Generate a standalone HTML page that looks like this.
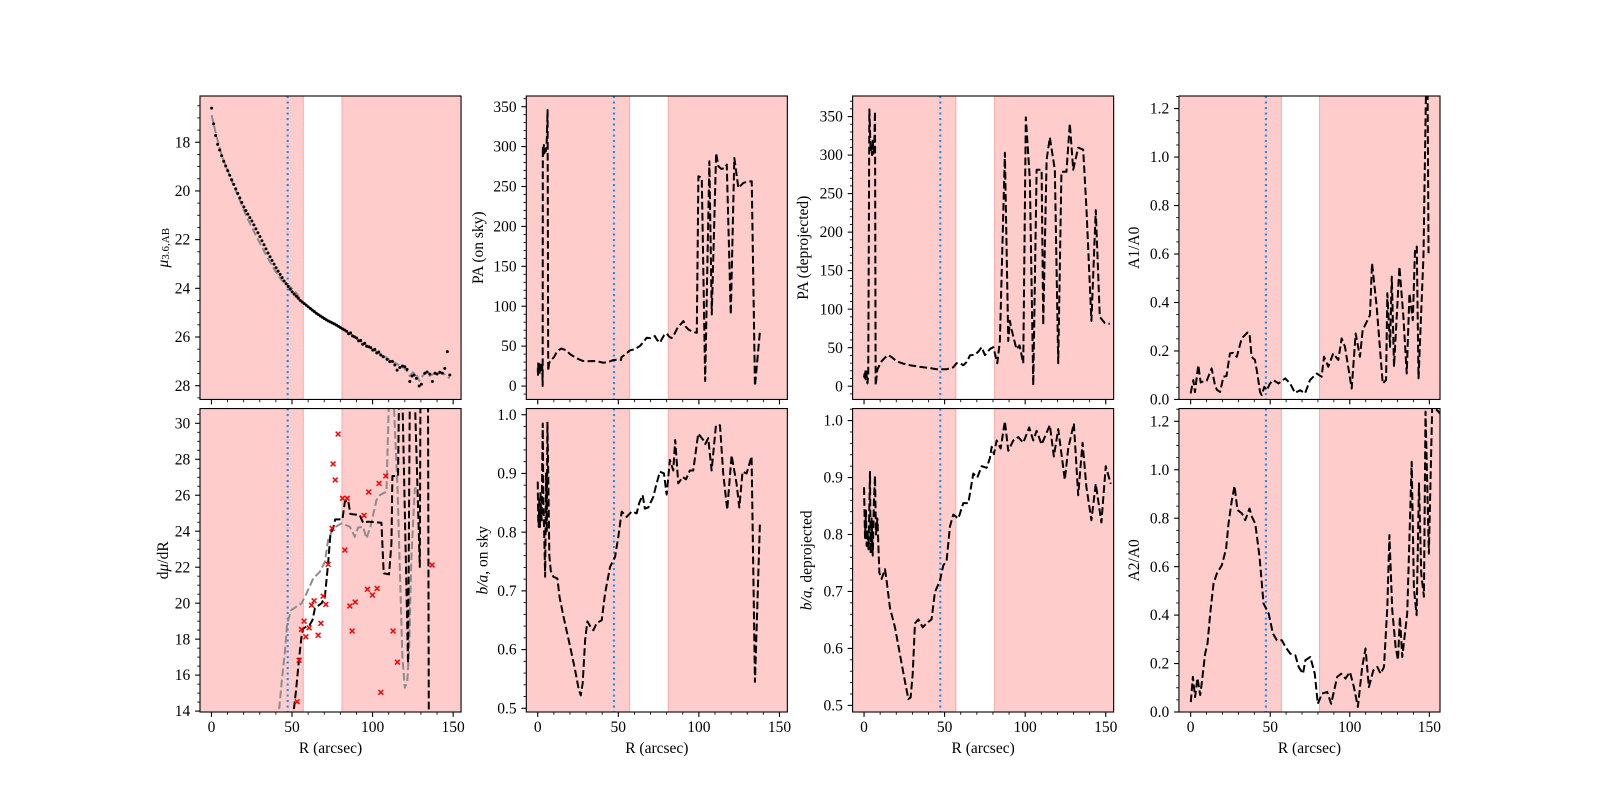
<!DOCTYPE html>
<html><head><meta charset="utf-8">
<style>
html,body{margin:0;padding:0;background:#fff;}
svg{display:block;}
text{font-family:"Liberation Serif","DejaVu Serif",serif;fill:#000;}
</style></head>
<body>
<svg id="s" width="1600" height="800" xmlns="http://www.w3.org/2000/svg"><defs id="defs"></defs><rect x="0" y="0" width="1600" height="800" fill="#fff"/></svg>
<script>
const NS='http://www.w3.org/2000/svg';
const svg=document.getElementById('s');
const defs=document.getElementById('defs');
function el(tag,attrs,parent){const e=document.createElementNS(NS,tag);for(const k in attrs)e.setAttribute(k,attrs[k]);(parent||svg).appendChild(e);return e;}
function addText(parts,attrs,parent){const t=el('text',attrs,parent);parts.forEach(p=>{const s=el('tspan',p[1]||{},t);s.textContent=p[0];});return t;}

const cols=[[200,461.05],[526.3,787.35],[852.6,1113.65],[1178.95,1440]];
const rows=[[96,399.45],[408.55,712]];
const XL=[[-7.1,154.9],[-7.1,154.9],[-7.1,154.9],[-7.35,156.7]];
const FS=15.5;

const BLACK={stroke:'#000','stroke-width':2,'stroke-dasharray':'7.7 3.3',fill:'none','stroke-linejoin':'round'};
const GREY={stroke:'#8c8c8c','stroke-width':2,'stroke-dasharray':'7.7 3.3',fill:'none','stroke-linejoin':'round'};

function interp(pts,x){for(let i=0;i<pts.length-1;i++){if(x>=pts[i][0]&&x<=pts[i+1][0]){const t=(x-pts[i][0])/(pts[i+1][0]-pts[i][0]);return pts[i][1]+t*(pts[i+1][1]-pts[i][1]);}}return pts[pts.length-1][1];}

// ---------- data ----------
const muKey=[[0.1,16.60],[1.75,17.45],[3.6,18.04],[7.5,18.77],[11.5,19.38],[15.4,19.96],[20.4,20.70],[25.3,21.26],[30.5,21.93],[35.4,22.59],[40.4,23.19],[45.4,23.73],[50.5,24.18],[55.5,24.52],[65.2,25.03],[71.4,25.30],[77.6,25.51],[85.9,25.85],[94.1,26.26],[102.4,26.60],[106,26.75]];
const muDots=[];
(function(){let k=0;for(let R=0.1;R<=105.5;R+=1.25){let v=interp(muKey,R);if(R>85){v+=0.05*Math.sin(k*2.7)}muDots.push([R,v]);k++;}})();
[[106.6,26.81],[109.0,26.92],[110.7,27.01],[112.2,27.0],[113.8,27.15],[115.2,27.36],[116.9,27.25],[118.5,27.19],[120.0,27.22],[121.4,27.33],[123.1,27.83],[124.5,27.60],[125.8,27.56],[127.2,27.70],[128.9,28.01],[130.3,27.94],[132.4,27.49],[133.8,27.44],[135.5,27.52],[137.1,27.83],[138.8,27.49],[140.0,27.52],[141.7,27.45],[143.3,27.49],[144.8,27.29],[146.4,26.60],[147.9,27.56]].forEach(p=>muDots.push(p));

const muGrey=[[0.1,16.88],[3.2,17.77],[6.3,18.52],[11.5,19.41],[16.6,20.23],[21.8,21.06],[28,21.88],[34.2,22.67],[39.4,23.27],[43.5,23.66],[48.7,23.93],[52.8,24.2],[55.5,24.5],[65.2,25.03],[71.4,25.3],[77.6,25.51],[85.9,25.85],[94.1,26.26],[102.4,26.6],[110.7,26.94],[114.8,27.1],[118,27.2],[121,27.36],[123,27.6],[125,27.45],[127,27.5],[129,27.8],[131,27.6],[133,27.45],[135,27.6],[137,27.55],[139,27.45],[141,27.5],[143,27.45],[145,27.55],[147.8,27.7]];

const paSky=[[0,22],[0.2,14],[0.35,30],[0.5,16],[0.7,28],[0.85,18],[1.0,26],[1.2,15],[1.4,27],[1.6,19],[1.8,29],[2.0,20],[2.2,26],[2.5,22],[2.8,24],[3.05,0],[3.15,300],[3.5,290],[3.8,302],[4.2,292],[4.6,300],[5.0,294],[5.5,300],[6.1,346],[6.5,19],[7.0,28],[7.5,31],[8.5,33],[10,36],[11.6,41.7],[13,45],[14.7,47],[16,46],[17.8,44.6],[20,40],[22,37.5],[25,34],[28.2,31.3],[31,31],[34.4,31.3],[37,31],[40.6,29.2],[43.7,30],[46.8,32.5],[49,33],[51.6,32.5],[52,36.3],[54,39],[57.2,44.6],[60,46],[63.4,50.1],[65.5,55],[67.6,60.5],[70,60],[72.7,62.6],[74,58],[75.8,54.2],[76.9,58.4],[78.5,64],[80,66],[81.5,62],[83,60],[84.2,62.6],[86,70],[87.3,75.1],[89,78],[90.4,81.4],[92,74],[93.5,70.9],[96,68],[98.7,66.7],[99.7,262.9],[101.8,260.8],[103.9,6.3],[106.5,281.6],[108,89.6],[110.7,292],[112.1,275.4],[114,272],[116.3,273.3],[117.3,277.5],[119.8,89.6],[122,285.8],[124.5,248.2],[127.6,254.5],[130,256],[132.8,256.6],[134.8,0],[138,70.9]];

const paDep=[[0,11.5],[0.3,16],[0.5,8],[0.8,19],[1.0,9],[1.3,19.4],[1.7,12],[2.1,3.7],[2.6,15],[3.3,359.4],[4.1,304.5],[4.6,312],[5.0,300],[5.4,320.2],[5.8,301.9],[6.3,310],[6.8,356.8],[7.2,1],[8.3,22],[10.9,32.4],[13,37],[15,40.3],[17,38],[20.2,32.4],[24,29.5],[28.5,27.2],[32,26],[36.7,24.6],[41,23.5],[45,22],[48,22],[51.2,22],[53,23],[55.4,24.6],[57.4,29.8],[59.5,30],[61.6,27.2],[64,32],[65.7,40],[68.8,41],[71,45],[73,50.7],[75,40.3],[78.1,48.1],[80.2,50.7],[82.7,29.8],[84.3,58.6],[87.4,303],[89.5,58.6],[90.5,85],[91.5,74],[94.6,48],[96.5,53],[98.8,29.8],[100.4,349],[102.9,267.9],[105,1],[107.1,281],[110.2,281],[111.2,79.5],[113.3,294],[115.3,322.8],[118.4,281],[120.5,29.8],[122.5,278.3],[125.6,278.3],[127.7,341],[129.8,281],[132.9,309.7],[136,307],[138,231.2],[141.1,84.8],[143.8,228.6],[146.3,90],[149.4,82],[152.5,81]];

const a1=[[0,0.025],[1.7,0.08],[2.7,0.03],[4.8,0.142],[6.3,0.07],[8,0.075],[10.1,0.077],[13.2,0.128],[15.3,0.059],[16.5,0.04],[18.5,0.031],[20.6,0.094],[22.5,0.096],[24.7,0.19],[26.8,0.192],[29,0.176],[32.1,0.252],[35.7,0.276],[37,0.273],[38.3,0.176],[40.4,0.163],[41.9,0.107],[43.6,0.031],[44.6,0.018],[46.3,0.052],[47.8,0.038],[49.9,0.066],[52,0.08],[55.2,0.066],[59.4,0.087],[62.5,0.066],[65.6,0.027],[68.8,0.038],[71.9,0.025],[75,0.08],[79.2,0.107],[82.3,0.094],[83.8,0.176],[86.5,0.135],[89.6,0.19],[92.8,0.163],[94.9,0.252],[97,0.217],[101.2,0.045],[103.7,0.272],[106.4,0.176],[108.1,0.286],[112.7,0.348],[114,0.562],[116.9,0.383],[120.7,0.066],[122.8,0.08],[123.6,0.438],[125.3,0.217],[126.4,0.507],[127.8,0.135],[129.5,0.341],[131.2,0.548],[133.7,0.341],[135.8,0.107],[137.5,0.438],[139.6,0.327],[141,0.617],[142.1,0.631],[143.2,0.087],[146.3,0.59],[148.2,1.4],[148.8,1.4],[149.5,0.603]];

const dmu=[[50.4,13.5],[52.4,15.07],[54.5,17.02],[56,18.23],[57,18.6],[59,18.69],[61,18.8],[62.7,19.06],[64.2,19.71],[65.2,19.8],[68.3,19.99],[70.4,20.36],[72.4,22.21],[73.9,23.88],[75.5,24.16],[76.8,24.66],[81.3,24.66],[82.8,25.64],[84.8,25.73],[86.2,24.96],[92,24.9],[94.1,24.47],[97.2,24.53],[105.5,24.47],[106.9,21.66],[110.2,21.6],[111.7,23.33],[112.3,27.07],[115.8,27.07],[116.4,31.5],[118.5,31.5],[122.0,16.65],[123.1,31.5],[126.2,31.5],[129.3,22.02],[129.7,31.5],[134.4,31.5],[134.9,13]];
const dmuGrey=[[41.4,13.5],[43.5,15.54],[45.5,17.21],[47,18.88],[49.6,19.62],[55.9,19.99],[59,20.54],[63.2,21.38],[67.3,21.75],[70.4,22.3],[72.4,23.51],[75.5,24.16],[80.7,24.44],[85.9,24.25],[89,23.69],[91,24.2],[94.1,24.25],[96.2,23.6],[98.7,24.25],[102.4,25.73],[104.5,26.01],[108.6,26.2],[110.2,31.5],[113,31.5],[115.5,26.3],[118.5,17.0],[120,15.3],[121.5,15.6],[122.7,17.5],[124.1,22.6],[126.2,26.38],[129.3,26.47]];
const redX=[[53.2,14.52],[54.4,16.83],[55.9,18.54],[57.5,19.0],[58.6,18.13],[60.6,18.63],[62.1,19.89],[63.7,20.13],[66.2,18.22],[67.9,18.88],[69.3,20.39],[71,19.93],[72.4,22.16],[74.9,24.16],[75.5,27.74],[76.8,26.85],[78.6,29.4],[81.3,25.83],[82.8,22.95],[84.2,25.83],[85.9,19.84],[87.3,18.45],[89.2,20.06],[94.7,24.88],[96.8,20.77],[97.6,26.18],[99.9,20.45],[102.8,20.82],[104,26.66],[105.1,15.04],[108.2,27.07],[112.7,18.45],[115.4,16.72],[136.9,22.12]];

const baSky=[[0,0.886],[0.3,0.82],[0.6,0.809],[1.0,0.86],[1.4,0.809],[1.7,0.87],[2.0,0.838],[2.4,0.82],[3.1,0.985],[3.5,0.85],[4.1,0.787],[4.6,0.724],[5.2,0.90],[5.6,0.80],[6.0,0.988],[6.6,0.88],[7.2,0.76],[8.1,0.734],[9.7,0.724],[12.2,0.721],[13.5,0.69],[16,0.656],[20.1,0.605],[23.2,0.565],[25.3,0.534],[26.7,0.522],[27.9,0.543],[29.4,0.616],[30.8,0.648],[32.5,0.64],[34.5,0.633],[36.6,0.645],[39.7,0.65],[41.8,0.696],[44.9,0.741],[48,0.758],[50,0.792],[52.1,0.835],[55.2,0.826],[58.3,0.835],[61.4,0.832],[63,0.85],[65.1,0.863],[66.5,0.84],[68.6,0.842],[71.7,0.86],[73.5,0.88],[75.8,0.903],[78.3,0.9],[80,0.864],[82,0.923],[84.1,0.905],[85.3,0.957],[87.2,0.883],[89.9,0.894],[92,0.89],[94.4,0.905],[96.5,0.905],[99.6,0.968],[102.7,0.957],[104,0.95],[105.8,0.96],[107.9,0.905],[110.6,0.982],[113.1,0.982],[115.1,0.9],[117.6,0.838],[120.3,0.931],[123.4,0.882],[125.1,0.842],[127.1,0.903],[129.6,0.9],[132.7,0.929],[134.8,0.545],[137.9,0.818]];

const baDep=[[0,0.883],[0.6,0.794],[1.2,0.842],[1.6,0.78],[2.1,0.808],[2.8,0.774],[3.7,0.91],[4.1,0.767],[4.7,0.828],[5.4,0.763],[6.1,0.855],[6.8,0.903],[7.4,0.80],[8.3,0.828],[9.5,0.733],[10.9,0.722],[13,0.739],[14,0.719],[16.1,0.671],[19.2,0.637],[22.3,0.589],[25.4,0.542],[27.5,0.511],[28.9,0.514],[30.2,0.555],[31.6,0.644],[33.7,0.651],[36.4,0.637],[38.8,0.644],[41.9,0.651],[44,0.699],[47.1,0.719],[49.2,0.746],[51.2,0.753],[53.3,0.814],[55.4,0.835],[58.5,0.828],[61.6,0.855],[64.7,0.855],[67.8,0.907],[70.3,0.9],[73,0.92],[76.1,0.917],[78.1,0.934],[79.2,0.954],[80.6,0.941],[82.3,0.965],[84.8,0.951],[87.4,0.999],[89.5,0.947],[92.6,0.965],[95.7,0.971],[98.8,0.961],[102.5,0.988],[105,0.965],[107.1,0.982],[110.2,0.958],[115.3,0.992],[117.8,0.937],[120.5,0.985],[124.6,0.896],[126.7,0.951],[130.2,0.995],[132.9,0.869],[135.6,0.961],[138,0.883],[141.1,0.825],[143.8,0.889],[147.3,0.821],[150,0.92],[153.1,0.889]];

const a2=[[0.1,0.041],[1.4,0.145],[2.8,0.062],[4.3,0.14],[6,0.07],[7,0.12],[9.1,0.241],[10.6,0.283],[12.3,0.407],[14.4,0.531],[16.5,0.572],[19.6,0.606],[22.3,0.675],[23.8,0.778],[25.9,0.875],[27.6,0.933],[29.4,0.834],[32.2,0.82],[34.3,0.792],[37,0.84],[38.5,0.806],[40.6,0.778],[43.3,0.64],[45.8,0.448],[49,0.407],[51.7,0.324],[54.2,0.296],[57.4,0.296],[59.5,0.269],[62.6,0.241],[65.8,0.234],[67.9,0.186],[70.6,0.158],[72.1,0.214],[75.2,0.227],[78,0.158],[79.9,0.034],[82.6,0.076],[85.8,0.083],[88.3,0.034],[92.1,0.145],[94.6,0.158],[97.3,0.138],[100.1,0.165],[102.6,0.103],[105.1,0.021],[107.8,0.186],[109.9,0.262],[112,0.103],[114.8,0.172],[117.3,0.186],[119.4,0.158],[121.5,0.186],[123.6,0.434],[124.9,0.73],[126.7,0.42],[128.8,0.269],[130.3,0.214],[131.5,0.393],[133,0.227],[136.1,0.407],[138.9,1.033],[140.3,0.51],[142,0.4],[143.5,0.944],[144.9,0.571],[146.6,0.476],[147.6,1.24],[149.7,0.654],[151.8,1.26],[155,1.245],[157,1.23]];

// ---------- panels ----------
function rng(a,b,s){const r=[];for(let v=a;v<=b+1e-9;v+=s)r.push(+v.toFixed(6));return r;}
const P=[
 {c:0,r:0,yl:[28.565,16.10],maj:rng(18,28,2),mi:0.5,dec:0,lx:163,lab:[['μ',{'font-style':'italic'}],['3.6,AB',{'font-size':11,dy:3}]],
  series:[{t:'line',d:muGrey,s:GREY},{t:'dots',d:muDots}]},
 {c:1,r:0,yl:[-16.8,363.4],maj:rng(0,350,50),mi:10,dec:0,lx:478,lab:[['PA (on sky)']],series:[{t:'line',d:paSky,s:BLACK}]},
 {c:2,r:0,yl:[-17.2,376.7],maj:rng(0,350,50),mi:10,dec:0,lx:803,lab:[['PA (deprojected)']],series:[{t:'line',d:paDep,s:BLACK}]},
 {c:3,r:0,yl:[0,1.252],maj:rng(0,1.2,0.2),mi:0.05,dec:1,lx:1134,lab:[['A1/A0']],series:[{t:'line',d:a1,s:BLACK}]},
 {c:0,r:1,yl:[13.95,30.82],maj:rng(14,30,2),mi:0.5,dec:0,lx:163,lab:[['d'],['μ',{'font-style':'italic'}],['/dR']],
  series:[{t:'line',d:dmuGrey,s:GREY},{t:'line',d:dmu,s:BLACK},{t:'x',d:redX}]},
 {c:1,r:1,yl:[0.4937,1.0105],maj:rng(0.5,1.0,0.1),mi:0.02,dec:1,lx:482.7,lab:[['b/a',{'font-style':'italic'}],[', on sky']],series:[{t:'line',d:baSky,s:BLACK}]},
 {c:2,r:1,yl:[0.4884,1.0211],maj:rng(0.5,1.0,0.1),mi:0.02,dec:1,lx:806.7,lab:[['b/a',{'font-style':'italic'}],[', deprojected']],series:[{t:'line',d:baDep,s:BLACK}]},
 {c:3,r:1,yl:[0,1.2527],maj:rng(0,1.2,0.2),mi:0.05,dec:1,lx:1134,lab:[['A2/A0']],series:[{t:'line',d:a2,s:BLACK}]}
];

P.forEach((p,idx)=>{
  const [x0,x1]=cols[p.c],[y0,y1]=rows[p.r],[xl0,xl1]=XL[p.c],[yb,yt]=p.yl;
  const X=v=>x0+(v-xl0)/(xl1-xl0)*(x1-x0);
  const Y=v=>y1-(v-yb)/(yt-yb)*(y1-y0);
  const cp=el('clipPath',{id:'cp'+idx},defs);
  el('rect',{x:x0,y:y0,width:x1-x0,height:y1-y0},cp);
  const g=el('g',{'clip-path':'url(#cp'+idx+')'});
  // spans
  el('rect',{x:x0,y:y0,width:X(57)-x0,height:y1-y0,fill:'#ffcccc'},g);
  el('rect',{x:X(81),y:y0,width:x1-X(81),height:y1-y0,fill:'#ffcccc'},g);
  el('line',{x1:X(57),y1:y0,x2:X(57),y2:y1,stroke:'#ffa8a8','stroke-width':1},g);
  el('line',{x1:X(81),y1:y0,x2:X(81),y2:y1,stroke:'#ffa8a8','stroke-width':1},g);
  // blue dotted
  el('line',{x1:X(47.3),y1:y0,x2:X(47.3),y2:y1,stroke:'#1e8ef7','stroke-width':2.1,'stroke-dasharray':'2.1 3.4'},g);
  // series
  p.series.forEach(s=>{
    if(s.t==='line'){
      const d='M'+s.d.map(q=>X(q[0]).toFixed(2)+','+Y(q[1]).toFixed(2)).join('L');
      el('path',Object.assign({d:d},s.s),g);
    }else if(s.t==='dots'){
      s.d.forEach(q=>el('circle',{cx:X(q[0]).toFixed(2),cy:Y(q[1]).toFixed(2),r:1.5,fill:'#000'},g));
    }else if(s.t==='x'){
      s.d.forEach(q=>{const cx=X(q[0]),cy=Y(q[1]),h=2.4;
        el('path',{d:`M${cx-h},${cy-h}L${cx+h},${cy+h}M${cx-h},${cy+h}L${cx+h},${cy-h}`,stroke:'#ff0000','stroke-width':1.5,fill:'none'},g);});
    }
  });
  // spine
  el('rect',{x:x0,y:y0,width:x1-x0,height:y1-y0,fill:'none',stroke:'#000','stroke-width':1.1});
  // y ticks
  const lo=Math.min(yb,yt),hi=Math.max(yb,yt);
  p.maj.forEach(v=>{
    if(v<lo-1e-9||v>hi+1e-9)return;
    const y=Y(v);
    el('line',{x1:x0,y1:y,x2:x0-4.9,y2:y,stroke:'#000','stroke-width':1.1});
    const t=el('text',{x:x0-9.7,y:(y+5.1).toFixed(2),'text-anchor':'end','font-size':FS});
    t.textContent=v.toFixed(p.dec);
  });
  for(let k=Math.ceil(lo/p.mi-1e-9);k*p.mi<=hi+1e-9;k++){
    const v=k*p.mi;
    if(p.maj.some(m=>Math.abs(m-v)<1e-6))continue;
    const y=Y(v);
    el('line',{x1:x0,y1:y,x2:x0-2.8,y2:y,stroke:'#000','stroke-width':0.85});
  }
  // x ticks
  [0,50,100,150].forEach(v=>{
    const x=X(v);
    el('line',{x1:x,y1:y1,x2:x,y2:y1+4.9,stroke:'#000','stroke-width':1.1});
    if(p.r===1){const t=el('text',{x:x,y:732,'text-anchor':'middle','font-size':FS});t.textContent=String(v);}
  });
  for(let v=-0;v<=xl1;v+=10){
    if(v%50===0)continue;
    const x=X(v);
    el('line',{x1:x,y1:y1,x2:x,y2:y1+2.8,stroke:'#000','stroke-width':0.85});
  }
  // labels
  const ym=(y0+y1)/2;
  addText(p.lab,{x:p.lx,y:ym,transform:`rotate(-90 ${p.lx} ${ym})`,'text-anchor':'middle','dominant-baseline':'central','font-size':FS});
  if(p.r===1){
    const t=el('text',{x:(x0+x1)/2,y:753,'text-anchor':'middle','font-size':FS});t.textContent='R (arcsec)';
  }
});
</script>
</body></html>
